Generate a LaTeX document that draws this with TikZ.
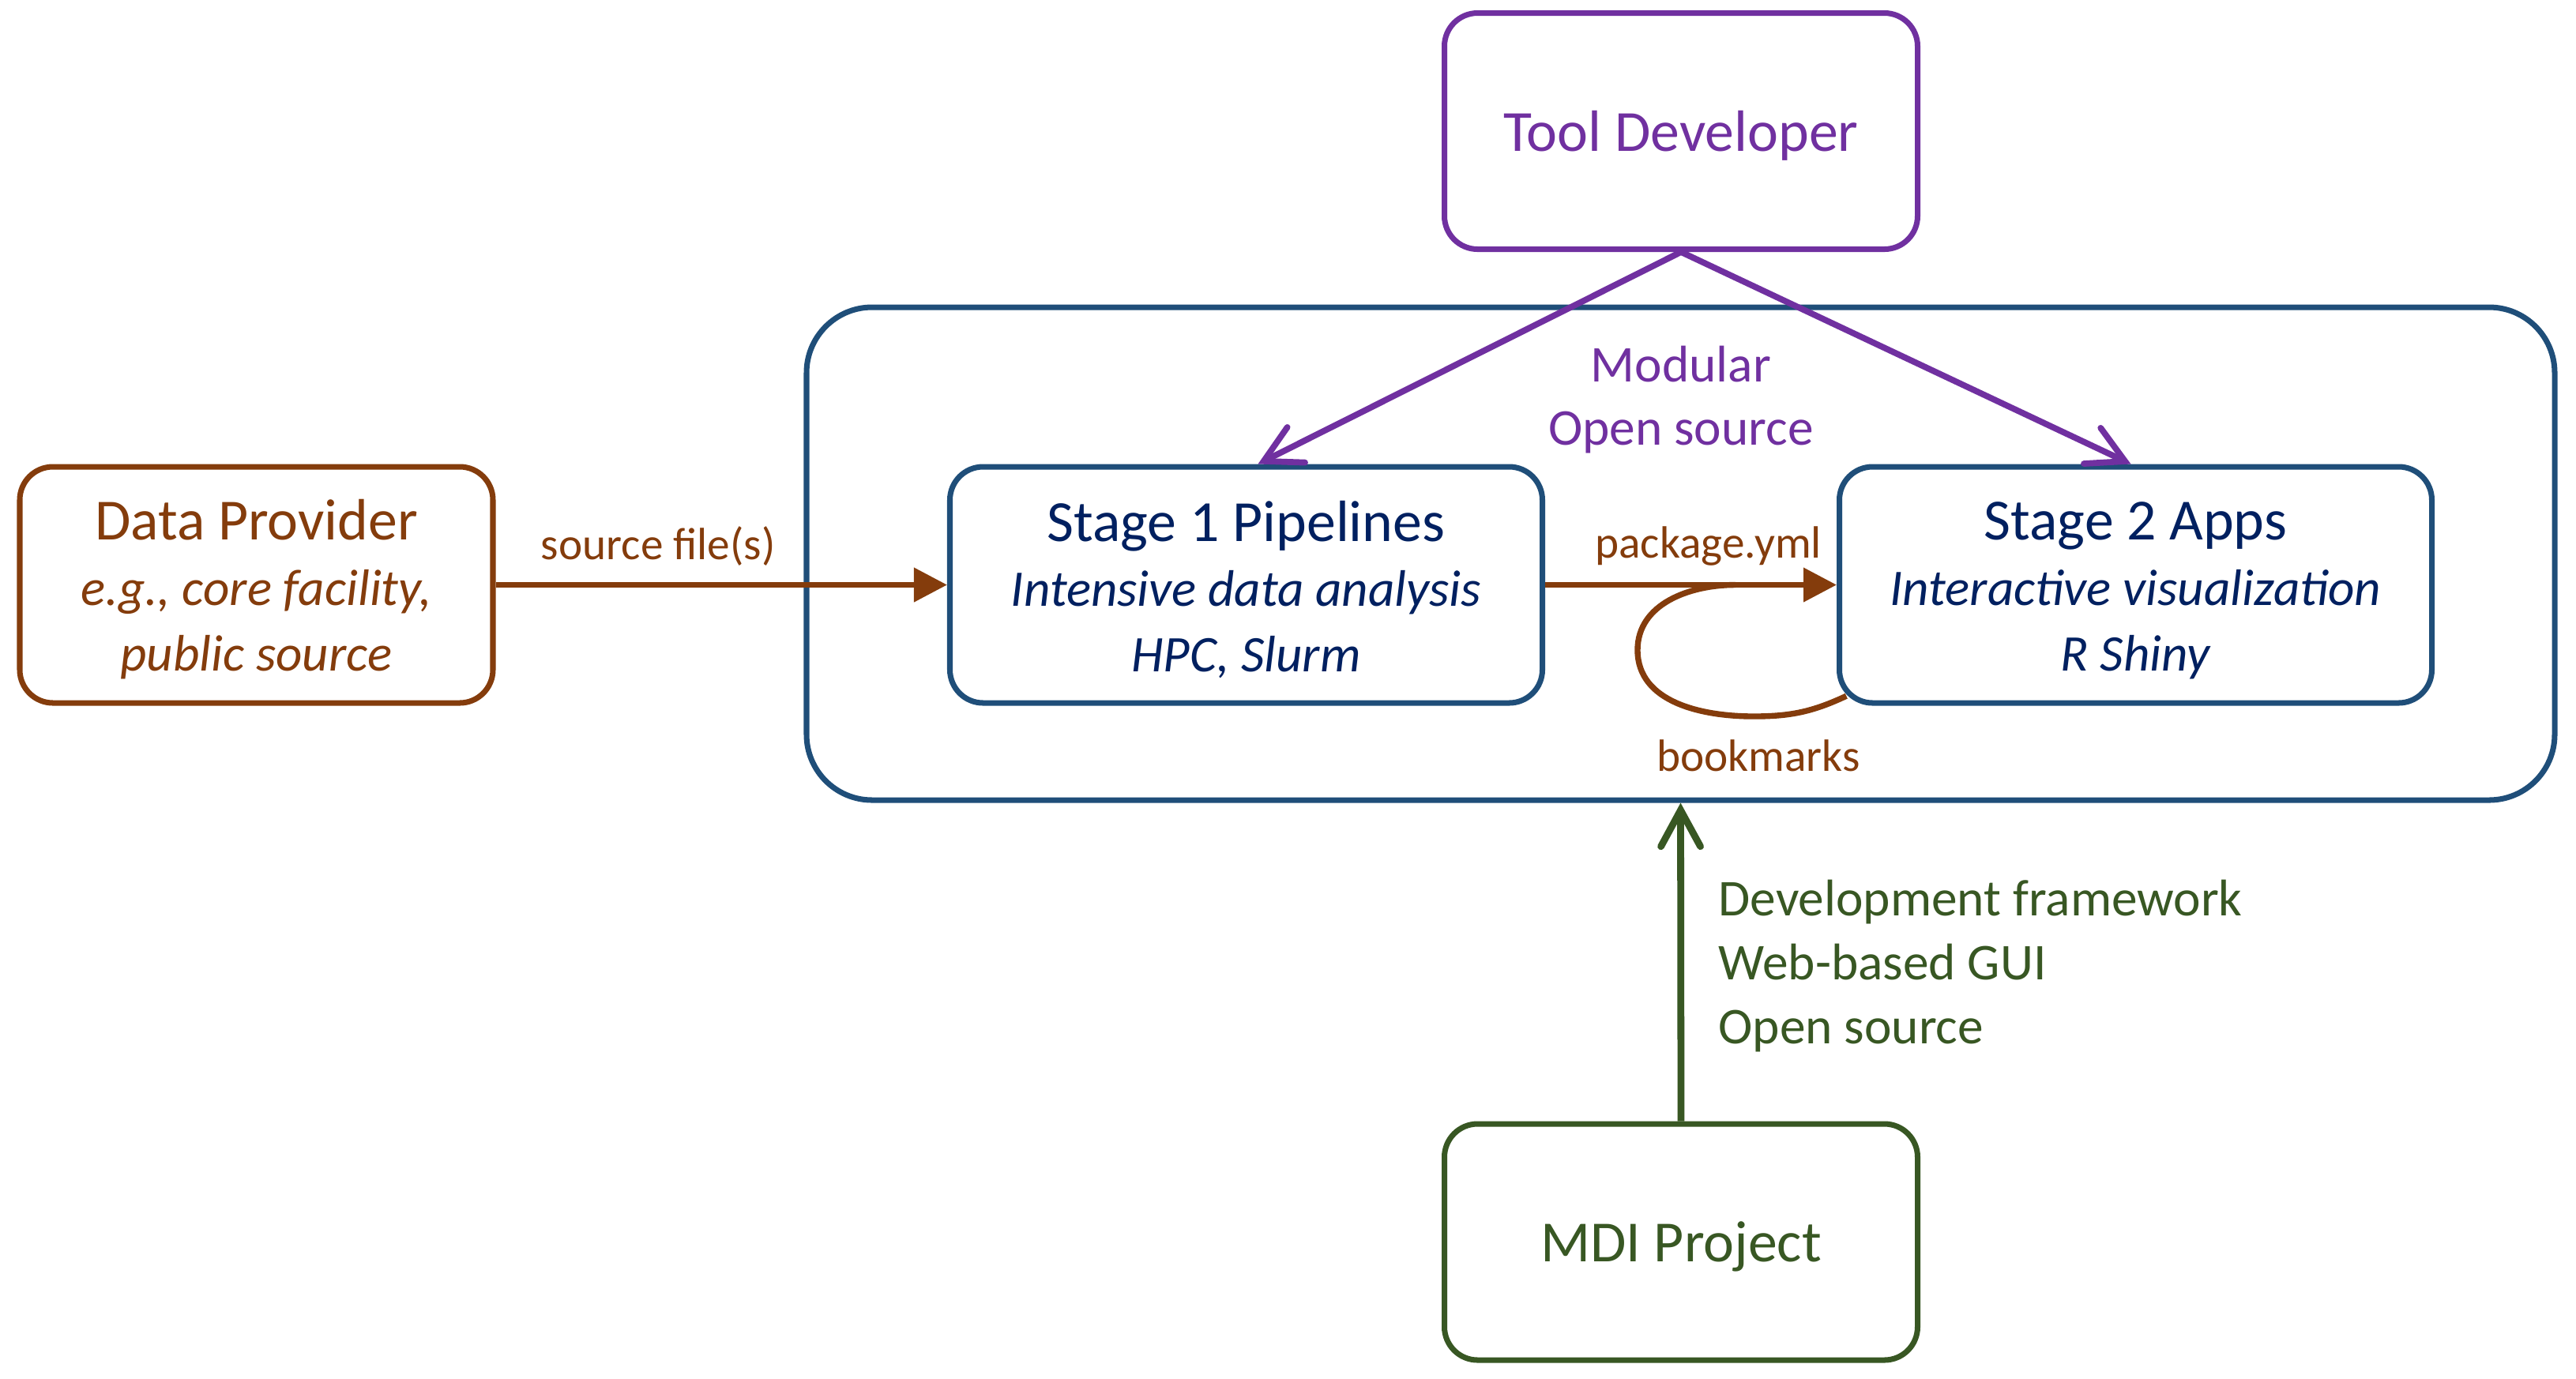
\documentclass[tikz,border=0pt]{standalone}
\usepackage{fontspec}
\setmainfont{Carlito}
\usepackage{tikz}
\usetikzlibrary{arrows.meta,calc}
\definecolor{braun}{HTML}{843C0C}
\definecolor{blau}{HTML}{1F4E79}
\definecolor{dblau}{HTML}{002060}
\definecolor{lila}{HTML}{7030A0}
\definecolor{gruen}{HTML}{385723}
\newcommand{\unter}[1]{{\fontsize{18.5}{23.6}\selectfont\itshape #1}}
\newcommand{\kopf}[1]{\rule{0pt}{18pt}#1}
\tikzset{
  kasten/.style={draw,rounded corners=4.2mm,line width=2pt,minimum width=5.99cm,minimum height=2.99cm,align=center,fill=white,
    font=\fontsize{21}{23.6}\selectfont},
  pfeil/.style={-{Triangle[length=4.2mm,width=4.2mm]},braun,line width=2.1pt},
  pfeill/.style={-{Straight Barb[length=4.6mm,width=5mm,line cap=round]},line width=2.2pt},
  beschr/.style={font=\fontsize{16.3}{20}\selectfont},
  hinweis/.style={font=\fontsize{18.6}{23}\selectfont},
}

\begin{document}
\begin{tikzpicture}
  \useasboundingbox (0,0) rectangle (32.61,-17.45);
  \node[draw=blau,rounded corners=8.3mm,line width=2pt,minimum width=22.13cm,minimum height=6.24cm] (rahmen) at (21.275,-7.01) {};
  \node[kasten,draw=lila,text=lila] (dev) at (21.28,-1.66) {\kopf{Tool Developer}};
  \node[kasten,draw=braun,text=braun] (prov) at (3.245,-7.405) {\kopf{Data Provider}\\\unter{e.g., core facility,}\\\unter{public source}};
  \node[kasten,draw=blau,text=dblau,minimum width=7.5cm] (s1) at (15.775,-7.405) {\kopf{Stage 1 Pipelines}\\\unter{Intensive data analysis}\\\unter{HPC, Slurm}};
  \node[kasten,draw=blau,text=dblau,minimum width=7.5cm] (s2) at (27.035,-7.405) {\kopf{Stage 2 Apps}\\\unter{Interactive visualization}\\\unter{R Shiny}};
  \node[kasten,draw=gruen,text=gruen] (mdi) at (21.28,-15.725) {\kopf{MDI Project}};
  \node[hinweis,lila,align=center] (modul) at (21.28,-5.06) {Modular\\Open source};
  \draw[pfeill,lila] (dev.south) -- ($(s1.north)+(0.15,0)$);
  \draw[pfeill,lila] (dev.south) -- ($(s2.north)+(-0.06,0)$);
  \draw[pfeil] (prov.east) -- (s1.west) node[beschr,above=2.5pt,pos=0.36]{source file(s)};
  \draw[pfeil] (s1.east) -- (s2.west) node[beschr,above=2.5pt,pos=0.56]{package.yml};
  % bookmarks loop
  \coordinate (bmanf) at (21.97,-7.405);
  \coordinate (bmend) at ($(s2.south west)+(0.123,0.123)$);
  \draw[braun,line width=2.1pt] (bmanf) to[out=180,in=90] (20.73,-8.23) to[out=-90,in=180] (22.2,-9.07) to[out=0,in=205] (bmend);
  \node[beschr,braun] (bm) at (22.26,-9.57) {bookmarks};
  \draw[pfeill,gruen,line width=2.5pt] (mdi.north) -- (rahmen.south) node[hinweis,midway,right=9pt,yshift=-0.05cm,align=left]{Development framework\\Web-based GUI\\Open source};
\end{tikzpicture}
\end{document}
